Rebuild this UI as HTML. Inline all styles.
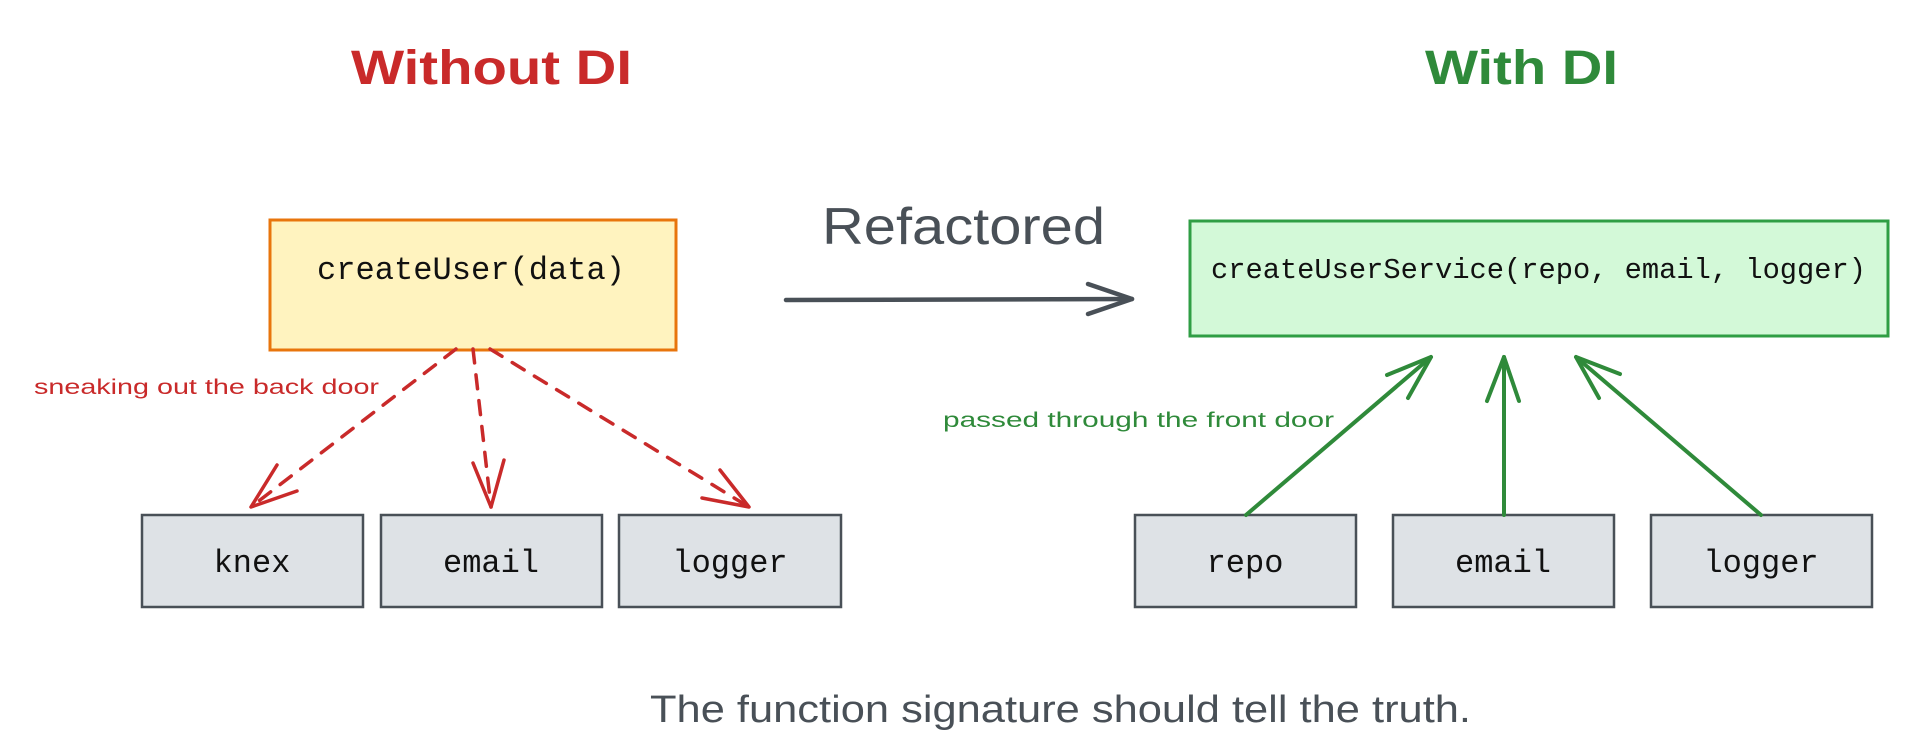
<!DOCTYPE html>
<html><head><meta charset="utf-8"><style>
html,body{margin:0;padding:0;background:#fff;overflow:hidden;}
svg{display:block;}
.hand{font-family:"Liberation Sans",sans-serif;}
.mono{font-family:"Liberation Mono","DejaVu Sans Mono",monospace;}
</style></head><body>
<svg width="1932" height="744" viewBox="0 0 1932 744" xmlns="http://www.w3.org/2000/svg">
<text x="351" y="84" class="hand" font-size="48" font-weight="bold" fill="#c92a2a" textLength="281" lengthAdjust="spacingAndGlyphs">Without DI</text>
<text x="1425" y="84" class="hand" font-size="48" font-weight="bold" fill="#2f8a3a" textLength="193" lengthAdjust="spacingAndGlyphs">With DI</text>

<rect x="270" y="220" width="406" height="130" fill="#fff3bf" stroke="#e8750c" stroke-width="3"/>
<text x="317" y="279" class="mono" font-size="32" fill="#111" textLength="308" lengthAdjust="spacingAndGlyphs">createUser(data)</text>

<rect x="1190" y="221" width="698" height="115" fill="#d3f9d8" stroke="#2f9e44" stroke-width="3"/>
<text x="1211" y="278" class="mono" font-size="29" fill="#111" textLength="655" lengthAdjust="spacingAndGlyphs">createUserService(repo, email, logger)</text>

<g fill="#dee2e6" stroke="#495057" stroke-width="2.5">
<rect x="142" y="515" width="221" height="92"/>
<rect x="381" y="515" width="221" height="92"/>
<rect x="619" y="515" width="222" height="92"/>
<rect x="1135" y="515" width="221" height="92"/>
<rect x="1393" y="515" width="221" height="92"/>
<rect x="1651" y="515" width="221" height="92"/>
</g>
<g class="mono" font-size="32" fill="#111" text-anchor="middle">
<text x="252" y="572">knex</text>
<text x="491" y="572">email</text>
<text x="730" y="572">logger</text>
<text x="1245" y="572">repo</text>
<text x="1503" y="572">email</text>
<text x="1761" y="572">logger</text>
</g>

<g stroke="#c92a2a" stroke-width="3.5" fill="none" stroke-linecap="round" stroke-linejoin="round">
<g stroke-dasharray="14 12">
<line x1="456" y1="349" x2="251" y2="507"/>
<line x1="473" y1="349" x2="491" y2="507"/>
<line x1="490" y1="349" x2="749" y2="507"/>
</g>
<polyline points="277,465 251,507 297,491"/>
<polyline points="473,463 491,507 504,460"/>
<polyline points="720,470 749,507 702,498"/>
</g>
<text x="34" y="394" class="hand" font-size="21" fill="#c92a2a" textLength="345" lengthAdjust="spacingAndGlyphs">sneaking out the back door</text>

<g stroke="#2f8a3a" stroke-width="4" fill="none" stroke-linecap="round" stroke-linejoin="round">
<line x1="1246" y1="515" x2="1431" y2="357"/>
<line x1="1504" y1="515" x2="1504" y2="357"/>
<line x1="1761" y1="515" x2="1576" y2="357"/>
<polyline points="1387,375 1431,357 1408,398"/>
<polyline points="1487,401 1504,357 1519,401"/>
<polyline points="1620,374 1576,357 1599,398"/>
</g>
<text x="943" y="427" class="hand" font-size="21" fill="#2f8a3a" textLength="391" lengthAdjust="spacingAndGlyphs">passed through the front door</text>

<text x="822" y="244" class="hand" font-size="52" fill="#495057" textLength="283" lengthAdjust="spacingAndGlyphs">Refactored</text>
<g stroke="#495057" stroke-width="4.5" fill="none" stroke-linecap="round" stroke-linejoin="round">
<line x1="786" y1="300" x2="1132" y2="299"/>
<polyline points="1088,284 1132,299 1088,314"/>
</g>

<text x="650" y="722" class="hand" font-size="38" fill="#495057" textLength="821" lengthAdjust="spacingAndGlyphs">The function signature should tell the truth.</text>
</svg>
</body></html>
